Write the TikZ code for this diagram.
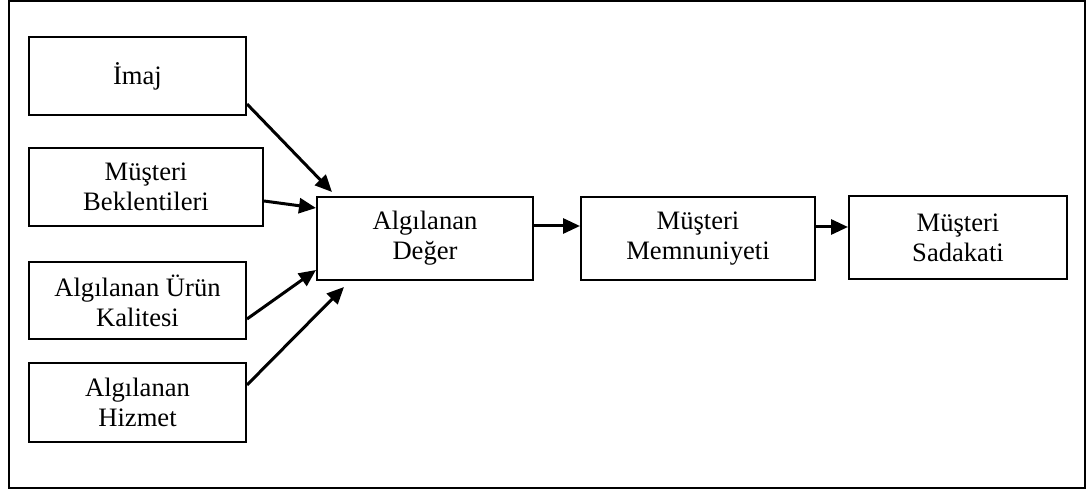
\documentclass[tikz,border=0pt]{standalone}
\usepackage{fontspec}
\setmainfont{Liberation Serif}
\usetikzlibrary{arrows.meta}
\begin{document}
\begin{tikzpicture}[x=1pt,y=1pt,
  box/.style={draw=black,line width=2pt,align=center,inner sep=0pt,
    font=\fontsize{26.6}{30}\selectfont},
  conn/.style={line width=3pt,-{Triangle[length=17pt,width=15pt]}}]
\useasboundingbox (0,0) rectangle (1086,490);
\draw[line width=1.3pt] (9,489) rectangle (1085,2);
\node[box,minimum width=217pt,minimum height=78pt] (imaj) at (137.5,414) {İmaj};
\node[box,minimum width=234pt,minimum height=78pt] (bek) at (146,303) {Müşteri\\Beklentileri};
\node[box,minimum width=217pt,minimum height=77pt] (kal) at (137.5,189.5) {Algılanan Ürün\\Kalitesi};
\node[box,minimum width=217pt,minimum height=79pt] (hiz) at (137.5,87.5) {Algılanan\\Hizmet};
\node[box,minimum width=216pt,minimum height=83pt] (deger) at (425,251.5) {Algılanan\\Değer};
\node[box,minimum width=234pt,minimum height=83pt] (mem) at (698,251.5) {Müşteri\\Memnuniyeti};
\node[box,minimum width=218pt,minimum height=83pt] (sad) at (958,252.5) {Müşteri\\Sadakati};
\draw[conn] ([yshift=12pt]imaj.south east) -- ([xshift=16pt,yshift=4pt]deger.north west);
\draw[conn] ([yshift=-14pt]bek.east) -- ([yshift=-12pt]deger.north west);
\draw[conn] ([yshift=21pt]kal.south east) -- ([yshift=11pt]deger.south west);
\draw[conn] ([yshift=-23pt]hiz.north east) -- ([xshift=28pt,yshift=-6pt]deger.south west);
\draw[conn] ([yshift=12.5pt]deger.east) -- ([yshift=12.5pt]mem.west);
\draw[conn] ([yshift=11.5pt]mem.east) -- ([yshift=10.5pt]sad.west);
\end{tikzpicture}
\end{document}
